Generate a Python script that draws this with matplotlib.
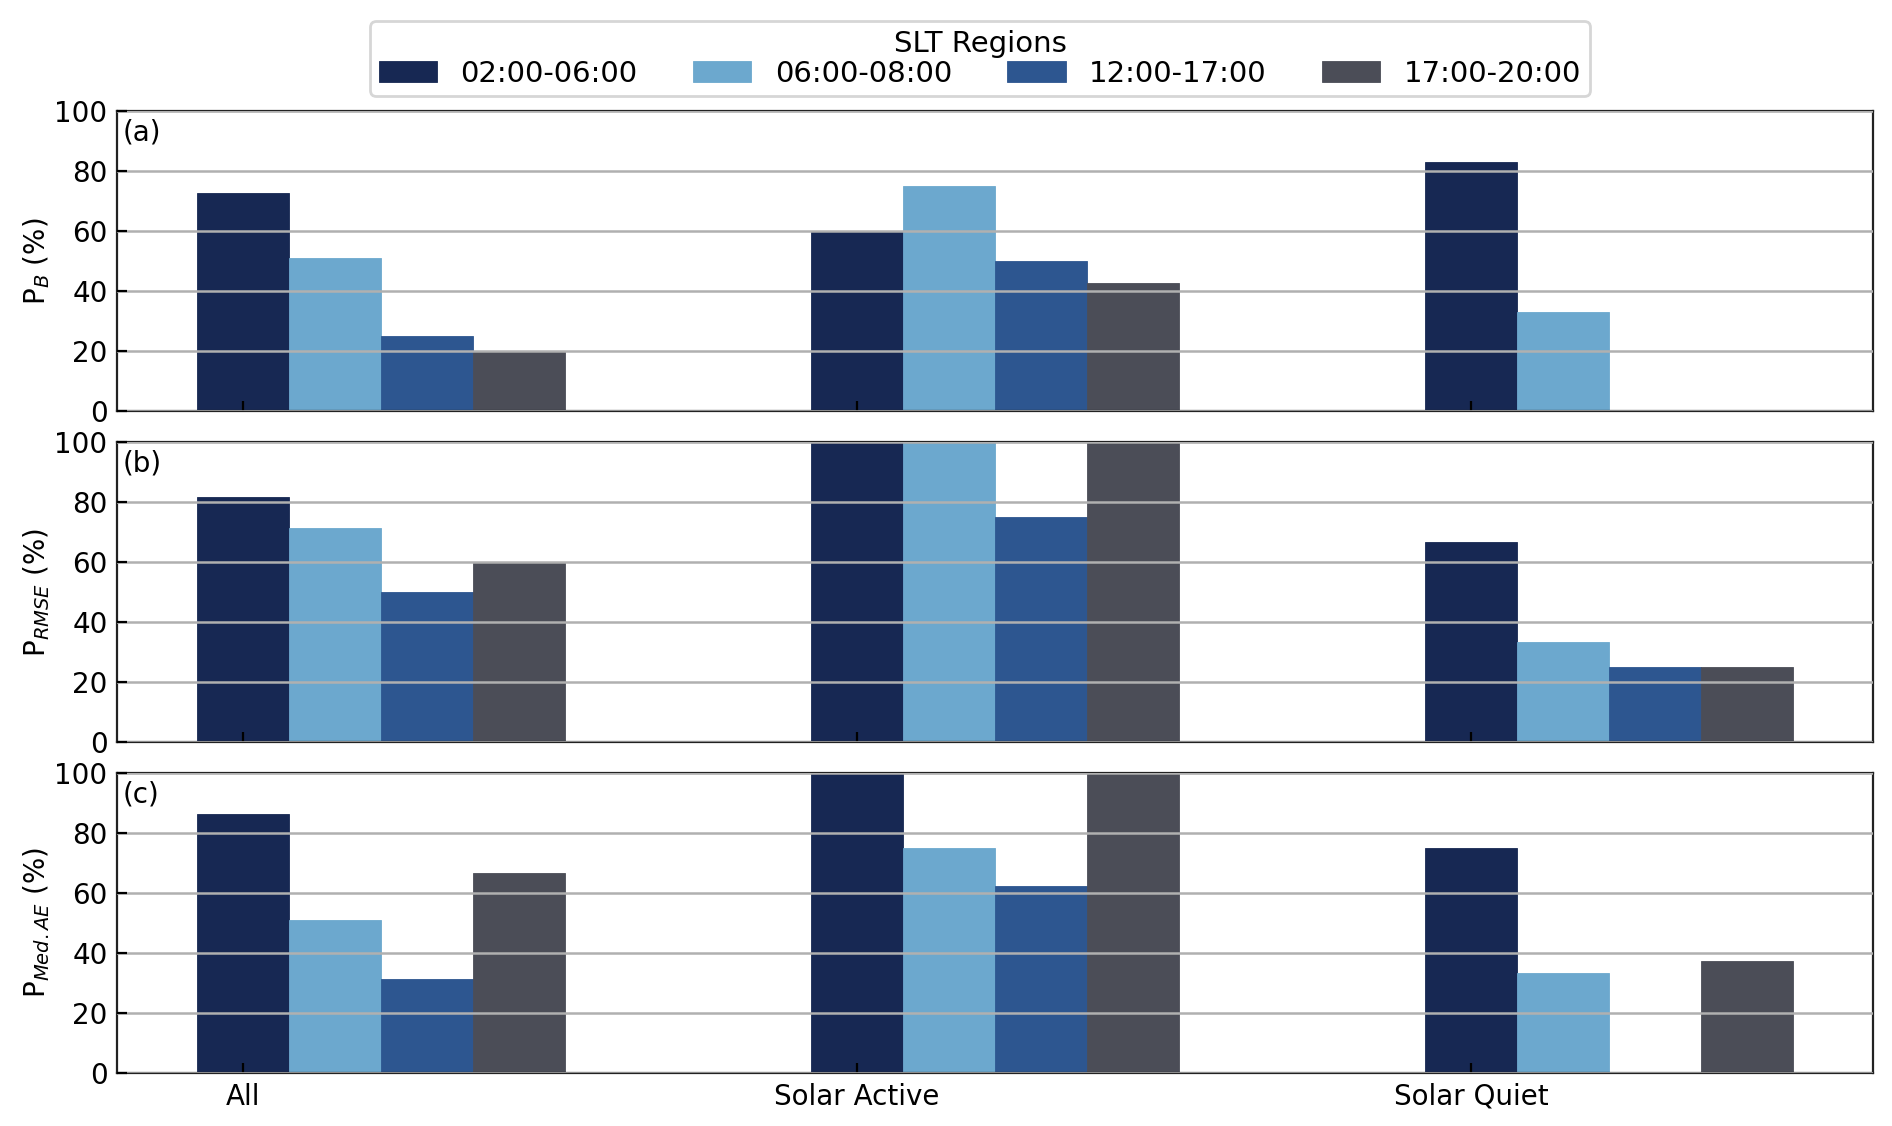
import numpy as np
import matplotlib
matplotlib.use("Agg")
import matplotlib.pyplot as plt

groups = ["All", "Solar Active", "Solar Quiet"]
slt_regions = ["02:00-06:00", "06:00-08:00", "12:00-17:00", "17:00-20:00"]
colors = ["#172853", "#6ca8ce", "#2d5690", "#4b4d57"]

# values per panel, one list per SLT region (All, Solar Active, Solar Quiet)
p_b = [[72.7, 60.0, 83.3],
       [51.1, 75.0, 33.3],
       [25.0, 50.0, 0.0],
       [20.0, 42.9, 0.0]]
p_rmse = [[81.8, 100.0, 66.7],
          [71.4, 100.0, 33.3],
          [50.0, 75.0, 25.0],
          [60.0, 100.0, 25.0]]
p_medae = [[86.4, 100.0, 75.0],
           [51.1, 75.0, 33.3],
           [31.2, 62.5, 0.0],
           [66.7, 100.0, 37.5]]

panels = [p_b, p_rmse, p_medae]
ylabels = [r"P$_{B}$ (%)", r"P$_{RMSE}$ (%)", r"P$_{Med.AE}$ (%)"]
tags = ["(a)", "(b)", "(c)"]

plt.rcParams['font.size'] = 10
fig, axes = plt.subplots(3, 1, figsize=(9.46, 5.63), dpi=200)
fig.subplots_adjust(left=0.062, right=0.99, top=0.901, bottom=0.047, hspace=0.103)

x = np.arange(len(groups))
width = 0.15

for k, ax in enumerate(axes):
    data = panels[k]
    for i in range(len(slt_regions)):
        ax.bar(x + i * width, data[i], width, color=colors[i],
               label=slt_regions[i], zorder=2, edgecolor=colors[i], linewidth=0.3)
    ax.set_ylim(0, 100)
    ax.set_yticks([0, 20, 40, 60, 80, 100])
    ax.set_xticks(x)
    if k == 2:
        ax.set_xticklabels(groups)
    else:
        ax.set_xticklabels([])
    ax.yaxis.grid(True, color="#b0b0b0", linewidth=0.9)
    ax.set_axisbelow(False)
    ax.tick_params(direction="in", length=3.5)
    ax.set_ylabel(ylabels[k], labelpad=1)
    ax.text(0.003, 0.975, tags[k], transform=ax.transAxes, va="top", ha="left")
    for sp in ax.spines.values():
        sp.set_color("#222222")

handles, labels = axes[0].get_legend_handles_labels()
fig.legend(handles, labels, loc="upper center", bbox_to_anchor=(0.518, 0.994),
           ncol=4, title="SLT Regions", fontsize=10.5, title_fontsize=10.5,
           labelspacing=0.05, borderpad=0.3, columnspacing=1.9)

fig.savefig("out.png", dpi=200)
